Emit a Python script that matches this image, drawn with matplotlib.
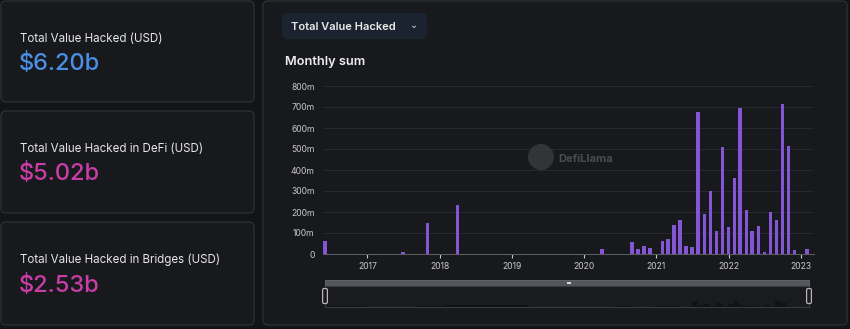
import matplotlib
matplotlib.use("Agg")
import matplotlib.pyplot as plt
from matplotlib.patches import FancyBboxPatch, Rectangle, Circle
from matplotlib.transforms import Affine2D
import pandas as pd

# ---------------- data ----------------
months = ["2016-06", "2017-07", "2017-11", "2018-04", "2020-04", "2020-09", "2020-10",
          "2020-11", "2020-12", "2021-02", "2021-03", "2021-04", "2021-05", "2021-06",
          "2021-07", "2021-08", "2021-09", "2021-10", "2021-11", "2021-12", "2022-01",
          "2022-02", "2022-03", "2022-04", "2022-05", "2022-06", "2022-07", "2022-08",
          "2022-09", "2022-10", "2022-11", "2022-12", "2023-02"]
hacked_musd = [60, 8, 150, 235, 25, 59, 24, 38, 27, 63, 71, 137, 163, 37, 32, 676, 192,
               298, 110, 508, 130, 360, 694, 210, 108, 135, 11, 202, 160, 713, 514, 19, 22]
y_ticks = [0, 100, 200, 300, 400, 500, 600, 700, 800]
y_tick_labels = ["0", "100m", "200m", "300m", "400m", "500m", "600m", "700m", "800m"]
year_ticks = ["2017", "2018", "2019", "2020", "2021", "2022", "2023"]
card_titles = ["Total Value Hacked (USD)", "Total Value Hacked in DeFi (USD)",
               "Total Value Hacked in Bridges (USD)"]
card_values = ["$6.20b", "$5.02b", "$2.53b"]
card_colors = ["#4a8fe6", "#c83da6", "#c83da6"]

# ---------------- figure ----------------
W, H = 850, 329
plt.rcParams["font.family"] = ["Inter", "DejaVu Sans"]
fig = plt.figure(figsize=(W / 100, H / 100), dpi=100)
fig.patch.set_facecolor("#131418")

# pixel transforms: top-left origin (for text) and bottom-left (for patches)
pix = Affine2D().scale(1, -1).translate(0, H).scale(1 / 100) + fig.dpi_scale_trans
pix_bl = Affine2D().scale(1 / 100) + fig.dpi_scale_trans

def rbox(x0, y0, x1, y1, face, edge, r=5, lw=1.0, z=0):
    # x0,y0,x1,y1 in top-left pixel coords
    yb = H - y1
    p = FancyBboxPatch((x0 + r, yb + r), (x1 - x0) - 2 * r, (y1 - y0) - 2 * r,
                       boxstyle=f"round,pad={r}", transform=pix_bl, facecolor=face,
                       edgecolor=edge, linewidth=lw, zorder=z)
    fig.add_artist(p)
    return p

# left cards
cards_y = [(1, 102), (111, 213), (222, 325)]
for (y0, y1), t, v, c in zip(cards_y, card_titles, card_values, card_colors):
    rbox(1, y0, 254, y1, "#18191d", "#2d2e33")
    fig.text(19.5, y0 + 37.5, t, transform=pix, color="#e6e6e6", fontsize=8.3,
             va="center", ha="left")
    fig.text(18.5, y0 + 63.5, v, transform=pix, color=c, fontsize=17, fontweight="medium",
             va="center", ha="left")

# right panel
rbox(263, 1, 847, 325, "#18191d", "#2d2e33")

# dropdown button
rbox(282, 13, 427, 39, "#1b2330", "none", r=5)
fig.text(291, 27, "Total Value Hacked", transform=pix, color="#eaeaea", fontsize=8.0,
         fontweight="semibold", va="center", ha="left")
fig.text(414, 25.5, "\u2304", transform=pix, color="#cfd3da", fontsize=7,
         va="center", ha="center", family=["DejaVu Sans"])
fig.text(285, 62, "Monthly sum", transform=pix, color="#eeeeee", fontsize=9.2,
         fontweight="semibold", va="center", ha="left")

# ---------------- main chart ----------------
ax_l, ax_r, ax_t, ax_b = 323, 814, 86, 254
ax = fig.add_axes([ax_l / W, 1 - ax_b / H, (ax_r - ax_l) / W, (ax_b - ax_t) / H])
ax.set_facecolor("none")
dates = pd.to_datetime([m + "-01" for m in months])
ax.bar(dates, hacked_musd, width=18, color="#8456d6", zorder=3, align="center")
ax.set_ylim(0, 800)
ax.set_xlim(pd.Timestamp("2016-05-22"), pd.Timestamp("2023-03-09"))
ax.set_yticks(y_ticks)
ax.set_yticklabels(y_tick_labels)
ax.yaxis.grid(True, color="#27282d", linewidth=0.8)
ax.set_axisbelow(True)
xt = pd.to_datetime([y + "-01-01" for y in year_ticks])
ax.set_xticks(xt)
ax.set_xticklabels(year_ticks)
for s in ["top", "right", "left"]:
    ax.spines[s].set_visible(False)
ax.spines["bottom"].set_color("#5a5b60")
ax.spines["bottom"].set_linewidth(0.8)
ax.tick_params(axis="y", length=0, pad=6, labelsize=6.2, labelcolor="#c8c8c8")
ax.tick_params(axis="x", length=3, width=0.8, color="#c8c8c8", pad=2.5,
               labelsize=6.2, labelcolor="#c8c8c8")

# watermark
fig.add_artist(Circle((541, H - 157), 13, transform=pix_bl, facecolor="#3a3b40",
                      edgecolor="none", alpha=0.8, zorder=5))
fig.text(558, 159.5, "DefiLlama", transform=pix, color="#4b4c51", fontsize=8,
         fontweight="bold", va="center", ha="left", zorder=5)

# ---------------- slider ----------------
sx0, sx1, sy0, sy1 = 325, 809, 286, 307
fig.add_artist(Rectangle((sx0, H - 286), sx1 - sx0, 6, transform=pix_bl,
                         facecolor="#55565b", edgecolor="#6a6b70", linewidth=0.6, zorder=4))
fig.add_artist(Rectangle((567, H - 284.2), 4, 2.5, transform=pix_bl, facecolor="#d8d8d8",
                         edgecolor="none", zorder=5))
fig.add_artist(Rectangle((sx0, H - sy1), sx1 - sx0, sy1 - sy0, transform=pix_bl,
                         facecolor="#1a1b1f", edgecolor="#3a3b40", linewidth=0.8, zorder=4))
sax = fig.add_axes([sx0 / W, 1 - sy1 / H, (sx1 - sx0) / W, (sy1 - sy0) / H])
sax.set_facecolor("none")
sax.set_zorder(5)
sax.fill_between(dates, hacked_musd, 0, step="mid", color="#111215", alpha=0.9, linewidth=0)
sax.set_xlim(pd.Timestamp("2016-05-22"), pd.Timestamp("2023-03-09"))
sax.set_ylim(0, 2400)
sax.axis("off")
for hx in (sx0, sx1):
    rbox(hx - 2.4, 288.5, hx + 2.4, 303.5, "#1a1b1f", "#b5b5b8", r=1.5, lw=0.9, z=6)

fig.savefig("out.png", dpi=100, facecolor=fig.get_facecolor())
